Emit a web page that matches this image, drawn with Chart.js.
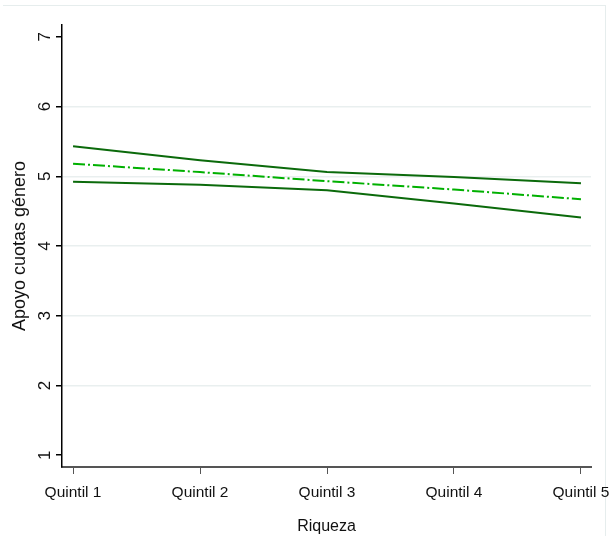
<!DOCTYPE html>
<html>
<head>
<meta charset="utf-8">
<script src="https://cdn.jsdelivr.net/npm/chart.js@4"></script>
<style>
  html, body { margin: 0; padding: 0; background: #fff; }
  #wrap { position: relative; width: 612px; height: 536px; }
  #frame { position: absolute; left: 3px; top: 5px; width: 603px; height: 531px; z-index: 0;
           border-top: 1px solid #e6eded; border-right: 1px solid #e6eded; box-sizing: border-box; pointer-events: none; }
  canvas { display: block; position: relative; z-index: 1; }
</style>
</head>
<body>
<div id="wrap">
  <div id="frame"></div>
  <canvas id="c" width="612" height="536"></canvas>
</div>
<script>
// Wealth quintiles and predicted support for gender quotas (with CI bounds)
const categories = ['Quintil 1', 'Quintil 2', 'Quintil 3', 'Quintil 4', 'Quintil 5'];
const quintilPos = [1, 2, 3, 4, 5];
const upperCI = [5.43, 5.23, 5.06, 4.99, 4.90];
const predicted = [5.18, 5.06, 4.93, 4.81, 4.67];
const lowerCI = [4.92, 4.88, 4.80, 4.61, 4.41];
const yTicks = [1, 2, 3, 4, 5, 6, 7];

const toPoints = arr => arr.map((v, i) => ({ x: quintilPos[i], y: v }));
const family = '"Liberation Sans", Arial, sans-serif';
const xTickFont = { family, size: 15.5 };
const xTitleFont = { family, size: 16 };
const yTickFont = { family, size: 17 };
const yTitleFont = { family, size: 18 };

new Chart(document.getElementById('c'), {
  type: 'line',
  data: {
    datasets: [
      { data: toPoints(upperCI), borderColor: '#0b6a0b', borderWidth: 2, pointRadius: 0, tension: 0 },
      { data: toPoints(predicted), borderColor: '#00b000', borderWidth: 2, borderDash: [12, 3, 2, 3], pointRadius: 0, tension: 0 },
      { data: toPoints(lowerCI), borderColor: '#0b6a0b', borderWidth: 2, pointRadius: 0, tension: 0 }
    ]
  },
  options: {
    responsive: false,
    animation: false,
    layout: { padding: { left: 0, right: 21, top: 25, bottom: 0 } },
    plugins: { legend: { display: false }, tooltip: { enabled: false } },
    scales: {
      x: {
        type: 'linear',
        min: 0.913,
        max: 5.079,
        afterBuildTicks: s => { s.ticks = quintilPos.map(v => ({ value: v })); },
        afterFit: s => { s.height = 69; s.paddingLeft = 0; s.paddingRight = 0; },
        ticks: {
          font: xTickFont,
          color: '#111',
          padding: 9,
          maxRotation: 0,
          autoSkip: false,
          callback: v => categories[quintilPos.indexOf(v)]
        },
        grid: { drawOnChartArea: false, color: '#555', tickColor: '#555', tickLength: 7, tickWidth: 1 },
        border: { color: '#555', width: 2 },
        title: { display: true, text: 'Riqueza', font: xTitleFont, color: '#111', padding: { top: 7, bottom: 0 } }
      },
      y: {
        min: 0.83,
        max: 7.17,
        afterBuildTicks: s => { s.ticks = yTicks.map(v => ({ value: v })); },
        afterFit: s => { s.width = 62; s.paddingTop = 0; s.paddingBottom = 0; },
        ticks: {
          font: yTickFont,
          color: '#111',
          padding: 6,
          crossAlign: 'center',
          minRotation: 90,
          maxRotation: 90
        },
        grid: {
          color: ctx => (ctx.tick && (ctx.tick.value === 1 || ctx.tick.value === 7)) ? 'rgba(0,0,0,0)' : '#e9efef',
          lineWidth: 1.5,
          tickColor: '#000',
          tickLength: 6
        },
        border: { color: '#000', width: 1.5 },
        title: { display: true, text: 'Apoyo cuotas género', font: yTitleFont, color: '#111', padding: { top: 9, bottom: 0 } }
      }
    }
  }
});
</script>
</body>
</html>
